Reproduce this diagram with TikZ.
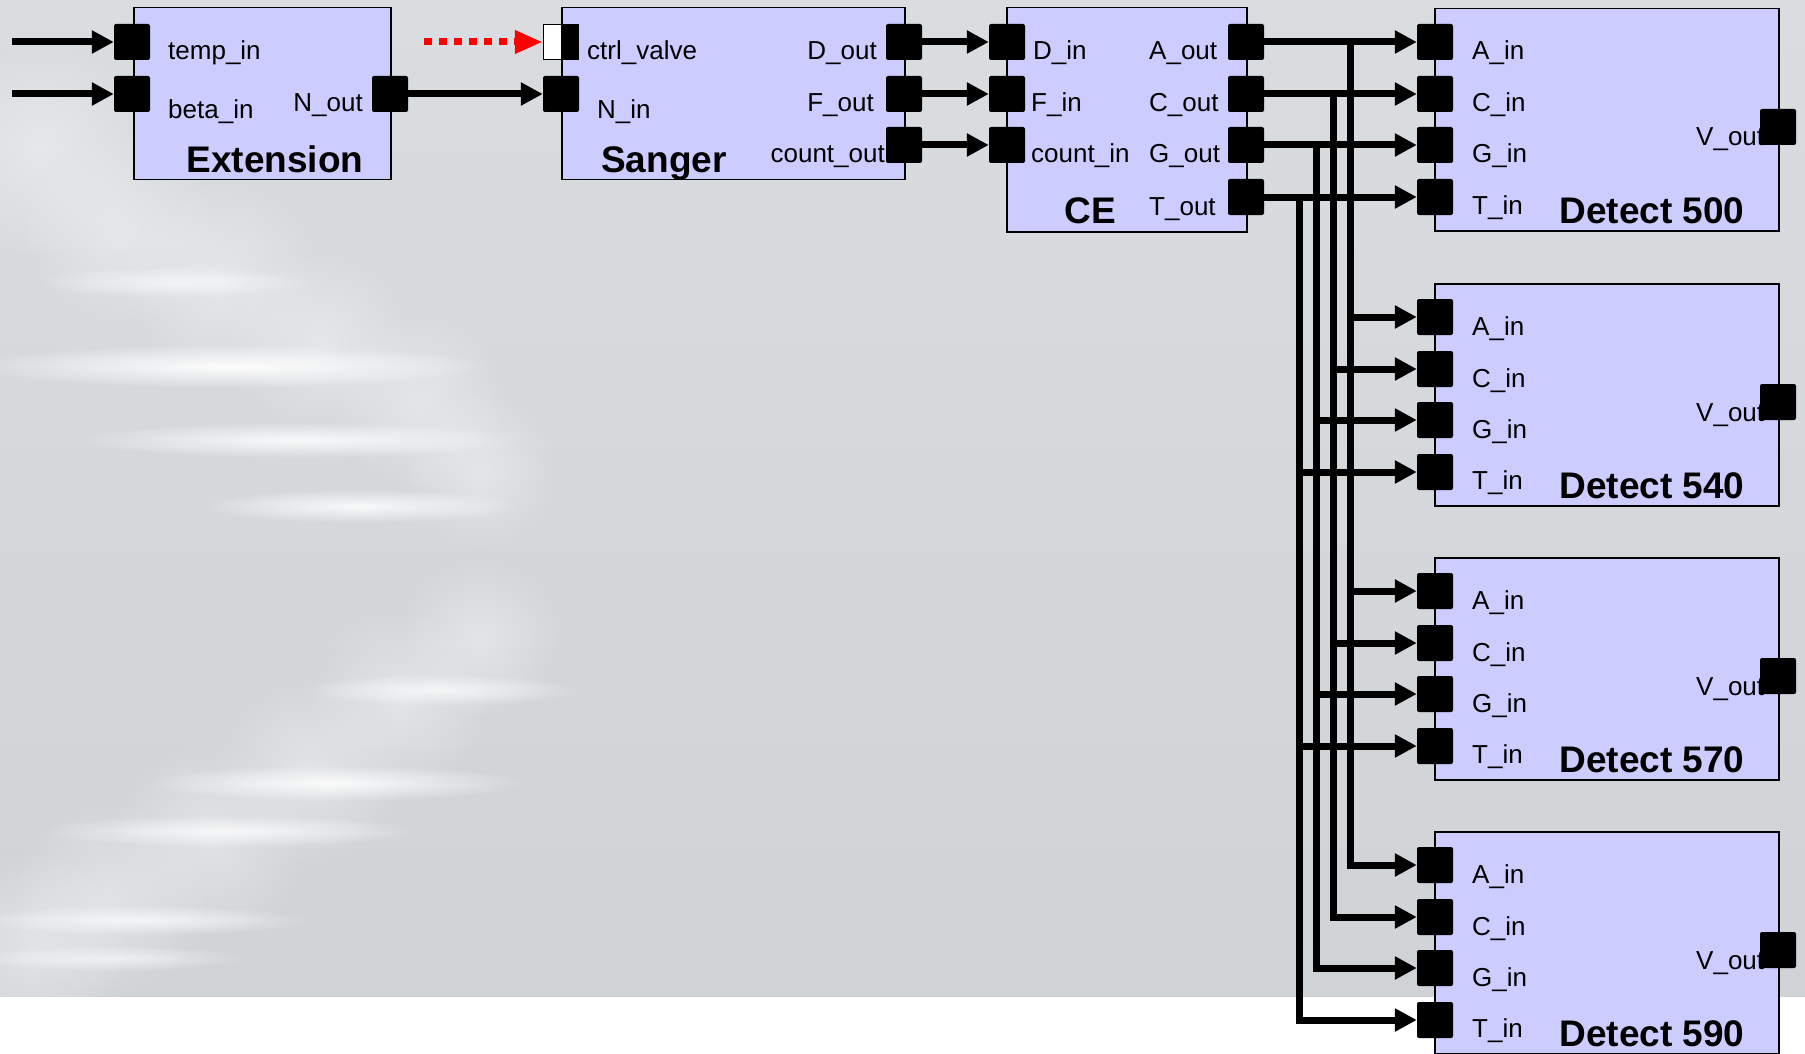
\documentclass[tikz,border=0pt]{standalone}
\usepackage{fontspec}
\setmainfont{Liberation Sans}
\usetikzlibrary{arrows.meta,fadings}

\definecolor{boxfill}{HTML}{CCCCFF}
\definecolor{bgtop}{HTML}{DADDE0}
\definecolor{bgbot}{HTML}{D0D3D6}

\tikzfading[name=softblob, inner color=transparent!0, outer color=transparent!100]

\begin{document}
\begin{tikzpicture}[x=1pt,y=-1pt,
  block/.style={draw=black, line width=1.5pt, fill=boxfill, inner sep=0pt, anchor=north west},
  port/.style={fill=black, rounded corners=2pt, minimum width=36pt, minimum height=36pt, inner sep=0pt},
  conn/.style={line width=7pt, -{Triangle[length=22pt,width=22pt]}},
  lbl/.style={font=\fontsize{26}{30}\selectfont, inner sep=0pt},
  title/.style={font=\fontsize{37}{40}\selectfont\bfseries, inner sep=0pt, anchor=base},
  blob/.style={white, path fading=softblob},
]
% ---------- background ----------
\useasboundingbox (0,0) rectangle (1805,1054);
\fill[top color=bgtop, bottom color=bgbot] (0,0) rectangle (1805,997);
\fill[white] (0,997) rectangle (1805,1054);

% blurred DNA helix
\begin{scope}
\clip (0,0) rectangle (1805,997);
\foreach \cx/\cy/\r in {40/150/110, 120/230/100, 220/280/100, 320/340/95, 420/400/90, 480/470/80,
                        480/640/80, 400/700/90, 310/770/95, 210/840/100, 110/900/100, 30/950/100} {
  \fill[blob, opacity=0.35] (\cx,\cy) circle [radius=\r pt];
}
\fill[blob, opacity=0.6] (175,282) ellipse [x radius=140pt, y radius=16pt];
\fill[blob, opacity=0.95] (230,366) ellipse [x radius=260pt, y radius=22pt];
\fill[blob, opacity=0.85] (300,440) ellipse [x radius=220pt, y radius=18pt];
\fill[blob, opacity=0.85] (360,506) ellipse [x radius=160pt, y radius=17pt];
\fill[blob, opacity=0.7] (440,690) ellipse [x radius=140pt, y radius=16pt];
\fill[blob, opacity=0.85] (335,783) ellipse [x radius=190pt, y radius=18pt];
\fill[blob, opacity=0.75] (230,831) ellipse [x radius=190pt, y radius=16pt];
\fill[blob, opacity=0.7] (140,920) ellipse [x radius=170pt, y radius=15pt];
\fill[blob, opacity=0.6] (110,958) ellipse [x radius=140pt, y radius=13pt];
\end{scope}

% ---------- blocks ----------
\node[block, minimum width=257pt, minimum height=172pt] (ext) at (133,7) {};
\node[block, minimum width=343pt, minimum height=172pt] (sng) at (561,7) {};
\node[block, minimum width=240pt, minimum height=224pt] (ce) at (1006,7) {};

% Extension labels and ports
\node[lbl, anchor=base west] at (168,60) {temp\_in};
\node[lbl, anchor=base west] at (168,119) {beta\_in};
\node[lbl, anchor=base east] at (363,112) {N\_out};
\node[title] at (275,173) {Extension};
\node[port] (tempin) at (132,42) {};
\node[port] (betain) at (132,94) {};
\node[port] (nout) at (390,94) {};

% Sanger labels and ports
\node[lbl, anchor=base west] at (587,60) {ctrl\_valve};
\node[lbl, anchor=base west] at (597,119) {N\_in};
\node[lbl, anchor=base east] at (877,60) {D\_out};
\node[lbl, anchor=base east] at (874,112) {F\_out};
\node[lbl, anchor=base east] at (885,163) {count\_out};
\node[title] at (664,172) {Sanger};
\node[draw=black, line width=1.5pt, fill=white, minimum width=35pt, minimum height=35pt, inner sep=0pt] (cv) at (561,42) {};
\fill[black] (cv.north) rectangle (cv.south east);
\node[port] (nin) at (561,94) {};
\node[port] (dout) at (904,42) {};
\node[port] (fout) at (904,94) {};
\node[port] (cout) at (904,145) {};

% CE labels and ports
\node[lbl, anchor=base west] at (1033,60) {D\_in};
\node[lbl, anchor=base west] at (1031,112) {F\_in};
\node[lbl, anchor=base west] at (1031,163) {count\_in};
\node[lbl, anchor=base west] at (1149,60) {A\_out};
\node[lbl, anchor=base west] at (1149,112) {C\_out};
\node[lbl, anchor=base west] at (1149,163) {G\_out};
\node[lbl, anchor=base west] at (1149,215) {T\_out};
\node[title] at (1090,223) {CE};
\node[port] (din) at (1007,42) {};
\node[port] (fin) at (1007,94) {};
\node[port] (cin) at (1007,145) {};
\node[port] (ceA) at (1246,42) {};
\node[port] (ceC) at (1246,94) {};
\node[port] (ceG) at (1246,145) {};
\node[port] (ceT) at (1246,197) {};

% Detect blocks
\foreach \tp/\nm/\num in {8/d1/500, 283/d2/540, 557/d3/570, 831/d4/590} {
  \node[block, minimum width=344pt, minimum height=222pt] (\nm) at (1434,\tp) {};
  \node[lbl, anchor=base west] at (1472,{\tp+52}) {A\_in};
  \node[lbl, anchor=base west] at (1472,{\tp+104}) {C\_in};
  \node[lbl, anchor=base west] at (1472,{\tp+155}) {G\_in};
  \node[lbl, anchor=base west] at (1472,{\tp+206}) {T\_in};
  \node[lbl, anchor=base west] at (1696,{\tp+138}) {V\_out};
  \node[title] at (1652,{\tp+215}) {Detect \num};
  \node[port] (\nm A) at (1435,{\tp+34}) {};
  \node[port] (\nm C) at (1435,{\tp+86}) {};
  \node[port] (\nm G) at (1435,{\tp+137}) {};
  \node[port] (\nm T) at (1435,{\tp+189}) {};
  \node[port] (\nm V) at (1778,{\tp+119}) {};
}

% ---------- connectors ----------
\coordinate (srcT) at (12,42);
\coordinate (srcB) at (12,94);
\coordinate (srcCV) at (424,42);
\draw[conn] (srcT) -- (tempin.west);
\draw[conn] (srcB) -- (betain.west);
\draw[conn] (nout.east) -- (nin.west);
\draw[red, line width=7pt, dash pattern=on 7.5pt off 7.5pt, -{Triangle[length=28pt,width=22pt]}] (srcCV) -- (cv.west);
\draw[conn] (dout.east) -- (din.west);
\draw[conn] (fout.east) -- (fin.west);
\draw[conn] (cout.east) -- (cin.west);

% bus lines
\coordinate (xA) at (1350,0);
\coordinate (xC) at (1333,0);
\coordinate (xG) at (1316,0);
\coordinate (xT) at (1299,0);
\foreach \p in {A,C,G,T} {
  \draw[conn] (ce\p.east) -- (d1\p.west);
  \draw[conn] (x\p |- ce\p.east) |- (d4\p.west);
  \draw[conn] (x\p |- d2\p.west) -- (d2\p.west);
  \draw[conn] (x\p |- d3\p.west) -- (d3\p.west);
}
\end{tikzpicture}
\end{document}
